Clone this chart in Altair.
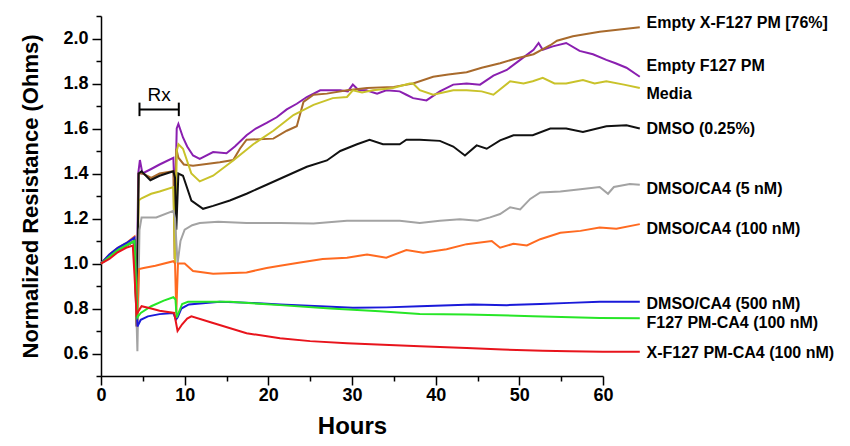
import altair as alt
import pandas as pd

# ---------------- data ----------------
series_names = [
    "Empty F127 PM", "Empty X-F127 PM [76%]", "Media", "DMSO (0.25%)",
    "DMSO/CA4 (5 nM)", "DMSO/CA4 (100 nM)", "DMSO/CA4 (500 nM)",
    "F127 PM-CA4 (100 nM)", "X-F127 PM-CA4 (100 nM)",
]
series_colors = [
    "#8A1FB0", "#A86A2C", "#C9C22A", "#111111",
    "#A3A3A3", "#FF6A20", "#1A1AD9", "#27E627", "#E8141C",
]

purple_h = [0, 1, 2, 3, 4.0, 4.25, 4.45, 4.65, 4.95, 6, 7, 8.65, 8.85, 9.05, 9.25, 9.8, 10.3, 11, 11.8,
            13.4, 15, 16, 17.4, 18.5, 19.8, 21, 22.2, 23.4, 24.6, 26.2, 27.4, 28.6, 29.5, 30.1,
            30.8, 31.7, 33, 34.1, 35.7, 36.5, 37.3, 38.9, 40.5, 42.1, 43.7, 45.3, 46.9, 48.5,
            50.1, 51.7, 52.3, 52.8, 54, 55.6, 57.2, 58.8, 60.4, 61.5, 62.8, 64.4]
purple_v = [1.0, 1.03, 1.06, 1.08, 1.10, 0.76, 1.40, 1.46, 1.40, 1.42, 1.44, 1.47, 1.25, 1.60,
            1.62, 1.56, 1.52, 1.48, 1.465, 1.495, 1.49, 1.52, 1.57, 1.60, 1.625, 1.65, 1.685,
            1.71, 1.74, 1.77, 1.77, 1.77, 1.765, 1.795, 1.77, 1.77, 1.755, 1.77, 1.765, 1.75,
            1.735, 1.725, 1.765, 1.795, 1.80, 1.795, 1.835, 1.86, 1.905, 1.95, 1.98, 1.95,
            1.965, 1.98, 1.945, 1.93, 1.905, 1.89, 1.87, 1.83]

brown_h = [0, 1, 2, 3, 4.0, 4.3, 4.5, 5, 6, 7, 8.65, 8.8, 9.0, 9.25, 9.9, 11, 14.2, 15.8,
           16.6, 17.4, 20.6, 22.2, 23.4, 24.2, 25.4, 27, 29.4, 31.8, 35, 37.3, 39.7, 41.5,
           43.7, 45.5, 47.7, 49.5, 51.7, 53.7, 54.5, 56.4, 58, 59.6, 62, 64.4]
brown_v = [1.0, 1.03, 1.06, 1.08, 1.10, 0.715, 1.40, 1.40, 1.38, 1.40, 1.41, 1.02, 1.51, 1.47,
           1.44, 1.435, 1.45, 1.46, 1.51, 1.55, 1.555, 1.59, 1.61, 1.718, 1.75, 1.755, 1.77,
           1.78, 1.785, 1.80, 1.83, 1.84, 1.85, 1.87, 1.89, 1.91, 1.93, 1.97, 1.99, 2.01,
           2.02, 2.03, 2.04, 2.05]

yellow_h = [0, 1, 2, 3, 4.0, 4.25, 4.5, 4.85, 6, 7, 8.65, 8.85, 9.05, 9.25, 9.8, 10.8, 11.8, 13.4,
            15.8, 18.2, 20.6, 23, 25.4, 27.7, 29.4, 30.1, 31.2, 32.5, 34.9, 36.9, 37.3, 38.1,
            39.7, 42.1, 43.7, 45.5, 46.9, 48.9, 50.5, 51.6, 52.8, 54.2, 55.6, 57.6, 59, 60.4,
            62.5, 64.4]
yellow_v = [1.0, 1.03, 1.06, 1.08, 1.10, 0.75, 1.28, 1.29, 1.31, 1.32, 1.34, 1.0, 1.50, 1.53,
            1.51, 1.40, 1.365, 1.39, 1.458, 1.53, 1.59, 1.66, 1.705, 1.735, 1.74, 1.77, 1.76,
            1.77, 1.78, 1.80, 1.80, 1.77, 1.75, 1.77, 1.77, 1.765, 1.75, 1.81, 1.80, 1.81,
            1.825, 1.80, 1.80, 1.815, 1.80, 1.81, 1.795, 1.78]

black_h = [0, 1, 2, 3, 4.0, 4.25, 4.5, 4.85, 5.9, 7, 8.65, 8.85, 9.0, 9.25, 9.8, 10.8, 12.2, 13.4,
           15.4, 17.4, 19.8, 22.2, 24.6, 27, 28.6, 30.6, 32.1, 33.7, 35.7, 36.5, 38.1, 40.5,
           42.1, 43.5, 44.9, 46.1, 47.7, 49.3, 51.6, 53.7, 55.6, 57.6, 60.4, 62.8, 64.4]
black_v = [1.0, 1.03, 1.06, 1.08, 1.10, 0.72, 1.40, 1.41, 1.37, 1.39, 1.41, 1.38, 1.15, 1.40,
           1.39, 1.28, 1.243, 1.256, 1.28, 1.31, 1.35, 1.39, 1.43, 1.458, 1.50, 1.53, 1.55,
           1.53, 1.53, 1.55, 1.55, 1.545, 1.52, 1.48, 1.525, 1.51, 1.547, 1.57, 1.57, 1.60,
           1.60, 1.585, 1.61, 1.614, 1.60]

gray_h = [0, 1, 2, 3, 4.0, 4.35, 4.6, 4.85, 6.6, 8.65, 8.85, 9.15, 9.5, 10.0, 10.9, 11.8, 14, 17.4,
          21.4, 25.4, 29.4, 33.4, 35.7, 38.1, 40.5, 42.9, 45, 46.5, 47.7, 48.9, 50.1, 51.3,
          52.5, 54.9, 57.3, 59.6, 60.6, 61.3, 63.2, 64.4]
gray_v = [1.0, 1.03, 1.06, 1.08, 1.10, 0.61, 1.15, 1.205, 1.205, 1.234, 1.20, 1.0, 1.10, 1.15,
          1.17, 1.18, 1.185, 1.18, 1.18, 1.178, 1.19, 1.19, 1.19, 1.18, 1.19, 1.197, 1.19,
          1.205, 1.22, 1.25, 1.24, 1.287, 1.316, 1.32, 1.33, 1.34, 1.31, 1.34, 1.353, 1.35]

orange_h = [0, 1, 2, 3, 4.0, 4.3, 4.55, 5.1, 6.5, 8.65, 8.85, 9.0, 9.2, 10.0, 11, 13.4, 17.4,
            19.8, 21.4, 23.8, 26.5, 29.4, 31.8, 34.1, 36.5, 38.5, 41.3, 43.7, 46.7, 47.7,
            49.3, 50.9, 52.5, 54.9, 57.3, 59.6, 61.6, 64.4]
orange_v = [1.0, 1.04, 1.07, 1.09, 1.12, 0.72, 0.975, 0.98, 0.99, 1.01, 1.0, 0.78, 1.0, 1.0,
            0.967, 0.955, 0.96, 0.98, 0.99, 1.004, 1.02, 1.026, 1.04, 1.026, 1.06, 1.048,
            1.063, 1.086, 1.10, 1.07, 1.088, 1.08, 1.108, 1.137, 1.145, 1.16, 1.155, 1.175]

blue_h = [0, 1, 2, 3, 4.0, 4.35, 4.75, 5.6, 7, 8.65, 8.95, 9.15, 9.6, 10.5, 14.2, 18, 21.4, 26.2,
          30.1, 34.1, 38.1, 44.5, 48.5, 52.5, 56, 59.6, 64.4]
blue_v = [1.0, 1.04, 1.07, 1.09, 1.115, 0.72, 0.75, 0.765, 0.775, 0.78, 0.75, 0.76, 0.80,
          0.818, 0.83, 0.825, 0.818, 0.81, 0.803, 0.805, 0.81, 0.818, 0.815, 0.82, 0.825,
          0.83, 0.83]

green_h = [0, 1, 2, 3, 4.0, 4.35, 4.75, 6, 7.5, 8.65, 8.9, 9.05, 9.7, 10.4, 11.8, 15.4, 21.4, 27.4,
           33.3, 38.1, 43.7, 51.6, 59.6, 64.4]
green_v = [1.0, 1.03, 1.06, 1.08, 1.10, 0.76, 0.78, 0.81, 0.835, 0.85, 0.84, 0.76, 0.82, 0.83,
           0.83, 0.83, 0.815, 0.80, 0.788, 0.776, 0.773, 0.766, 0.758, 0.757]

red_h = [0, 1, 2, 3, 3.8, 4.0, 4.25, 4.85, 6, 7, 8.75, 8.95, 9.15, 9.7, 10.3, 10.8, 13, 17.4, 21.4,
         25, 29.4, 33, 38.1, 43.7, 48, 52.8, 56, 60, 64.4]
red_v = [1.0, 1.02, 1.05, 1.07, 1.08, 0.95, 0.775, 0.81, 0.80, 0.79, 0.78, 0.74, 0.70, 0.73,
         0.755, 0.765, 0.74, 0.69, 0.668, 0.655, 0.646, 0.64, 0.632, 0.624, 0.618, 0.612,
         0.61, 0.608, 0.608]

series_hours = [purple_h, brown_h, yellow_h, black_h, gray_h, orange_h, blue_h, green_h, red_h]
series_values = [purple_v, brown_v, yellow_v, black_v, gray_v, orange_v, blue_v, green_v, red_v]

label_names = [
    "Empty X-F127 PM [76%]", "Empty F127 PM", "Media", "DMSO (0.25%)",
    "DMSO/CA4 (5 nM)", "DMSO/CA4 (100 nM)", "DMSO/CA4 (500 nM)",
    "F127 PM-CA4 (100 nM)", "X-F127 PM-CA4 (100 nM)",
]
label_values = [2.07, 1.877, 1.753, 1.60, 1.333, 1.153, 0.818, 0.736, 0.602]
label_hour = 65.2

rx_window = [4.6, 9.3]   # treatment window (hours)
rx_level = 1.685

x_major = [0, 10, 20, 30, 40, 50, 60]
x_minor = [5, 15, 25, 35, 45, 55]
y_major = [0.6, 0.8, 1.0, 1.2, 1.4, 1.6, 1.8, 2.0]
y_minor = [0.5, 0.7, 0.9, 1.1, 1.3, 1.5, 1.7, 1.9, 2.1]

# ---------------- tables ----------------
rows = []
for name, hrs, vals in zip(series_names, series_hours, series_values):
    for i, (h, v) in enumerate(zip(hrs, vals)):
        rows.append({"series": name, "hours": h, "value": v, "idx": i})
df = pd.DataFrame(rows)

labels_df = pd.DataFrame({"text": label_names, "value": label_values,
                          "hours": [label_hour] * len(label_names)})
rx_df = pd.DataFrame({"x": [rx_window[0]], "x2": [rx_window[1]], "y": [rx_level],
                      "mid": [(rx_window[0] + rx_window[1]) / 2]})
cap_df = pd.DataFrame({"x": rx_window, "y": [rx_level - 0.03] * 2, "y2": [rx_level + 0.03] * 2})

FONT = "Liberation Sans"
x_scale = alt.Scale(domain=[0, 60], nice=False, zero=False)
y_scale = alt.Scale(domain=[0.5, 2.1], nice=False, zero=False)

common = dict(
    labelFontSize=18, labelFont=FONT, labelFontWeight="bold", labelColor="black",
    labelFlush=False, labelOverlap=False, labelBound=False,
    domainColor="black", domainWidth=1.5, tickColor="black", tickWidth=1.5, grid=False,
    titleFont=FONT, titleFontWeight="bold", titleColor="black",
)

x_axis = alt.Axis(values=x_major, format="d", tickSize=9, labelPadding=1,
                  titleFontSize=24, titleX=251, titleY=57, titleBaseline="alphabetic",
                  orient="bottom", **common)
y_axis = alt.Axis(values=y_major, format=".1f", tickSize=9, labelPadding=4,
                  titleFontSize=22, titleX=-71, titleY=180, titleBaseline="middle",
                  orient="left", **common)

x_minor_axis = alt.Axis(values=x_minor, tickSize=5, labels=False, domain=False, title=None,
                        tickColor="black", tickWidth=1.5, grid=False, orient="bottom")
y_minor_axis = alt.Axis(values=y_minor, tickSize=5, labels=False, domain=False, title=None,
                        tickColor="black", tickWidth=1.5, grid=False, orient="left")

lines = alt.Chart(df).mark_line(strokeWidth=2, clip=False).encode(
    x=alt.X("hours:Q", scale=x_scale, axis=x_axis, title="Hours"),
    y=alt.Y("value:Q", scale=y_scale, axis=y_axis, title="Normalized Resistance (Ohms)"),
    color=alt.Color("series:N", scale=alt.Scale(domain=series_names, range=series_colors),
                    legend=None),
    order="idx:Q",
)

labels = alt.Chart(labels_df).mark_text(
    align="left", baseline="middle", fontSize=16, font=FONT, fontWeight="bold",
    color="black", clip=False,
).encode(x=alt.X("hours:Q", scale=x_scale, axis=x_minor_axis),
         y=alt.Y("value:Q", scale=y_scale, axis=y_minor_axis),
         text="text:N")

rx_bar = alt.Chart(rx_df).mark_rule(strokeWidth=2, color="black").encode(
    x=alt.X("x:Q", scale=x_scale, axis=None), x2="x2:Q",
    y=alt.Y("y:Q", scale=y_scale, axis=None))
rx_caps = alt.Chart(cap_df).mark_rule(strokeWidth=2, color="black").encode(
    x=alt.X("x:Q", scale=x_scale, axis=None),
    y=alt.Y("y:Q", scale=y_scale, axis=None), y2="y2:Q")
rx_text = alt.Chart(rx_df).mark_text(
    text="Rx", fontSize=19, font=FONT, color="black", baseline="bottom", align="center", dy=-4,
).encode(x=alt.X("mid:Q", scale=x_scale, axis=None), y=alt.Y("y:Q", scale=y_scale, axis=None))

chart = alt.layer(lines, labels, rx_bar, rx_caps, rx_text).resolve_axis(
    x="independent", y="independent"
).properties(
    width=502, height=360,
    autosize=alt.AutoSizeParams(type="none"),
    padding={"left": 93, "top": 8, "right": 239, "bottom": 62},
    background="white",
).configure_view(stroke=None)

chart.save("out.html", embed_options={"renderer": "svg", "actions": False})
